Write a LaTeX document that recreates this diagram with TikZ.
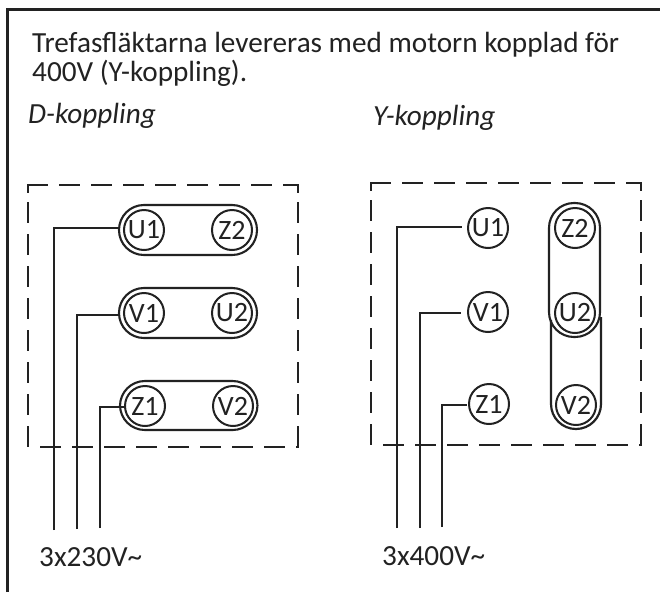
\documentclass[tikz,border=0pt]{standalone}
\usepackage{fontspec}
\setmainfont{Carlito}
\definecolor{ink}{HTML}{222222}
\tikzset{
  x=1pt,y=-1pt,
  frameline/.style={draw=ink,line width=3pt},
  wire/.style={draw=ink,line width=2.2pt,line join=miter},
  dashline/.style={draw=ink,line width=2.3pt,dash pattern=on 21pt off 11pt},
  term/.style={circle,draw=ink,line width=2pt,minimum size=40pt,inner sep=0pt,font=\fontsize{28}{28}\selectfont,text=ink},
  link/.style={draw=ink,line width=2.1pt,rounded corners=24.9pt},
  txt/.style={inner sep=0pt,anchor=base west,text=ink,font=\fontsize{29.2}{29.2}\selectfont},
  ital/.style={txt,font=\fontsize{29.2}{29.2}\selectfont\itshape},
}
\begin{document}
\begin{tikzpicture}
\useasboundingbox[fill=white] (0,0) rectangle (660,592);
% outer frame
\coordinate (f0) at (7,592); \coordinate (f1) at (7,9); \coordinate (f2) at (660,9);
\draw[frameline] (f0) -- (f1) -- (f2);
% texts
\node[txt] (t1) at (32,52) {Trefasfläktarna levereras med motorn kopplad för};
\node[txt] (t2) at (32,81) {400V (Y-koppling).};
\node[ital] (dk) at (28,123) {D-koppling};
\node[ital] (yk) at (373,125) {Y-koppling};
\node[txt] (v230) at (39,566) {3x230V\char"007E};
\node[txt] (v400) at (382,565) {3x400V\char"007E};
% dashed boxes
\draw[dashline] (27,185) -- (299,185);
\draw[dashline] (28,202) -- (28,447);
\draw[dashline] (28,184) -- (28,193);
\draw[dashline] (298,184) -- (298,193);
\draw[dashline] (298,202) -- (298,447);
\draw[dashline] (40,447) -- (299,447);
\draw[dashline] (370,183) -- (642,183);
\draw[dashline] (371,200) -- (371,445);
\draw[dashline] (371,182) -- (371,191);
\draw[dashline] (641,182) -- (641,191);
\draw[dashline] (641,200) -- (641,445);
\draw[dashline] (383,445) -- (642,445);
% D links
\draw[link] (119,205) rectangle (257,255);
\draw[link] (119,288) rectangle (257,338);
\draw[link] (120,381) rectangle (257.5,430);
% D terminals
\node[term] (du1) at (144,230) {U1};
\node[term] (dz2) at (232,230) {Z2};
\node[term] (dv1) at (144,313) {V1};
\node[term] (du2) at (232,313) {U2};
\node[term] (dz1) at (145,406) {Z1};
\node[term] (dv2) at (233,406) {V2};
% D wires
\coordinate (da) at (54,530); \coordinate (db) at (77,529); \coordinate (dc) at (100,528);
\draw[wire] (da) |- (119,228);
\draw[wire] (db) |- (119,315);
\draw[wire] (dc) |- (124,407);
% Y links
\draw[link] (549,203) rectangle (600,337);
\draw[wire] (551,320) -- (551,404) arc[start angle=180,end angle=0,radius=25] -- (601,317);
% Y terminals
\node[term] (yu1) at (488,228) {U1};
\node[term] (yv1) at (488,312) {V1};
\node[term] (yz1) at (489,404) {Z1};
\node[term] (yz2) at (575,228) {Z2};
\node[term] (yu2) at (575,313) {U2};
\node[term] (yv2) at (576,405) {V2};
% Y wires
\coordinate (ya) at (397,528); \coordinate (yb) at (420,528); \coordinate (yc) at (442,527);
\draw[wire] (ya) |- (462,227);
\draw[wire] (yb) |- (461,313);
\draw[wire] (yc) |- (467,405);
\end{tikzpicture}
\end{document}
